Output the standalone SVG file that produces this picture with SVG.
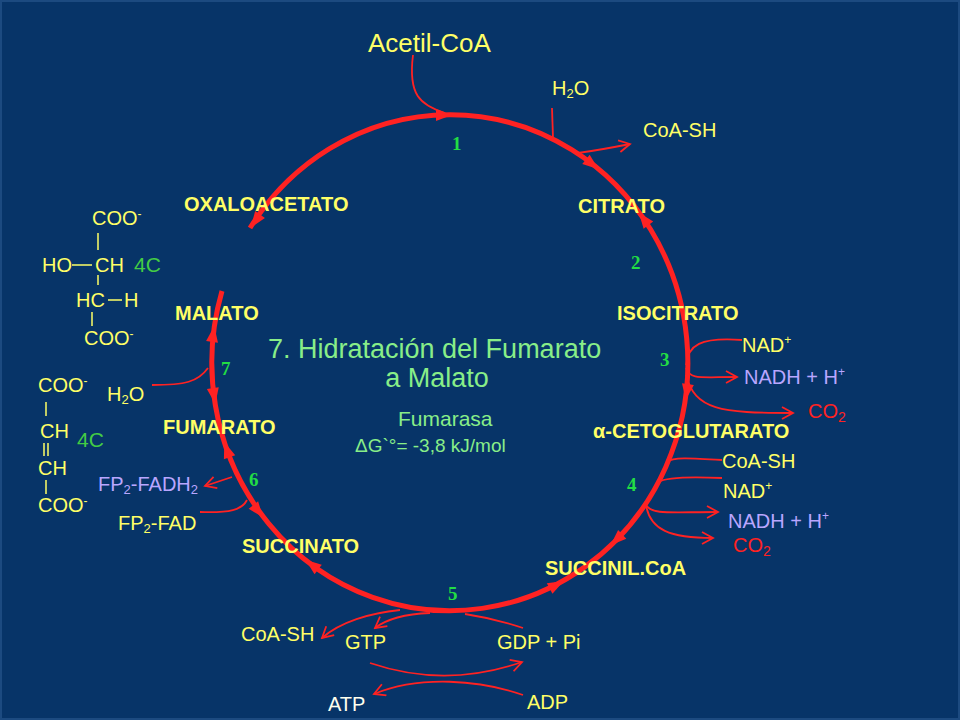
<svg xmlns="http://www.w3.org/2000/svg" width="960" height="720" viewBox="0 0 960 720">
<defs>
<style>
text{font-family:"Liberation Sans",Arial,sans-serif;fill:#ffff66;font-size:20px}
.b{font-weight:bold;font-size:20px}
.n{font-family:"Liberation Serif",serif;font-weight:bold;fill:#22dd44;font-size:19px}
.g{fill:#44cc44}
.lg{fill:#88ee88}
.p{fill:#b9a6ff}
.r{fill:#ff2222}
.t{fill:none;stroke:#ff2222;stroke-width:1.8}
.v{stroke:#ffff66;stroke-width:1.5}
</style>
<marker id="oa" markerWidth="14" markerHeight="14" refX="12" refY="7" orient="auto" markerUnits="userSpaceOnUse"><path d="M1,1 L12,7 L1,13" fill="none" stroke="#ff2222" stroke-width="1.8"/></marker>
<polygon id="ah" points="2,0 -14,-6 -14,6" fill="#ff2222"/>
</defs>
<rect width="960" height="720" fill="#073468"/>
<rect x="1" y="1" width="958" height="718" fill="none" stroke="#1c4a80" stroke-width="2"/>
<g id="connectors">
<path d="M250,228 A238,248 0 1 1 222,291" fill="none" stroke="#ff2222" stroke-width="5"/>
<use href="#ah" transform="translate(450,115) rotate(0)"/>
<use href="#ah" transform="translate(597,168) rotate(38)"/>
<use href="#ah" transform="translate(640,214) rotate(-127)"/>
<use href="#ah" transform="translate(686,398) rotate(98)"/>
<use href="#ah" transform="translate(612,544) rotate(137)"/>
<use href="#ah" transform="translate(562,582) rotate(-28)"/>
<use href="#ah" transform="translate(307,561) rotate(217)"/>
<use href="#ah" transform="translate(262,516) rotate(52)"/>
<use href="#ah" transform="translate(225,444) rotate(251)"/>
<use href="#ah" transform="translate(215,402) rotate(81)"/>
<use href="#ah" transform="translate(214,328) rotate(278)"/>
<use href="#ah" transform="translate(252,226) rotate(125)"/>
<path class="t" d="M413,55 C408,95 420,105 445,113"/>
<path class="t" d="M552,108 L553,138"/>
<path class="t" d="M578,153 Q600,150 630,144" marker-end="url(#oa)"/>
<path class="t" d="M742,340 C700,337 688,345 686,365"/>
<path class="t" d="M686,368 C690,380 700,377 737,377" marker-end="url(#oa)"/>
<path class="t" d="M686,375 C695,410 720,413 793,413" marker-end="url(#oa)"/>
<path class="t" d="M722,460 C690,458 672,457 667,462"/>
<path class="t" d="M722,478 C680,476 665,478 658,482"/>
<path class="t" d="M646,505 C652,515 670,512 718,512" marker-end="url(#oa)"/>
<path class="t" d="M646,505 C650,530 670,538 713,538" marker-end="url(#oa)"/>
<path class="t" d="M400,610 C370,613 340,622 322,638" marker-end="url(#oa)"/>
<path class="t" d="M430,613 C405,614 388,618 375,628" marker-end="url(#oa)"/>
<path class="t" d="M523,628 C505,622 485,617 465,614"/>
<path class="t" d="M370,663 C420,680 470,680 522,662" marker-end="url(#oa)"/>
<path class="t" d="M523,695 C480,680 420,675 374,694" marker-end="url(#oa)"/>
<path class="t" d="M152,385 C185,385 198,382 208,368"/>
<path class="t" d="M232,477 L205,486" marker-end="url(#oa)"/>
<path class="t" d="M200,512 C230,513 242,510 247,500"/>
</g>
<g id="acetil"><text x="368" y="52" style="font-size:26px">Acetil-CoA</text></g>
<g id="h2o-top"><text x="552" y="95">H<tspan font-size="13" dy="3">2</tspan><tspan dy="-3">O</tspan></text></g>
<g id="coash1"><text x="643" y="137">CoA-SH</text></g>
<g id="n1"><text class="n" x="452" y="150">1</text></g>
<g id="citrato"><text class="b" x="578" y="213">CITRATO</text></g>
<g id="oxaloacetato"><text class="b" x="184" y="211">OXALOACETATO</text></g>
<g id="n2"><text class="n" x="631" y="269">2</text></g>
<g id="isocitrato"><text class="b" x="617" y="320">ISOCITRATO</text></g>
<g id="title"><text class="lg" x="268" y="358" style="font-size:27px">7. Hidratación del Fumarato</text><text class="lg" x="437" y="387" text-anchor="middle" style="font-size:27px">a Malato</text></g>
<g id="enzyme"><text class="lg" x="398" y="426" style="font-size:21px">Fumarasa</text><text class="lg" x="355" y="452" style="font-size:19px">ΔG`°= -3,8  kJ/mol</text></g>
<g id="step3"><text class="n" x="660" y="366">3</text>
<text x="742" y="352">NAD<tspan font-size="12" dy="-8">+</tspan></text>
<text class="p" x="744" y="384">NADH + H<tspan font-size="12" dy="-8">+</tspan></text>
<text class="r" x="808" y="418">CO<tspan font-size="14" dy="4">2</tspan></text></g>
<g id="cetoglutarato"><text class="b" x="593" y="438">α-CETOGLUTARATO</text></g>
<g id="step4"><text x="722" y="468">CoA-SH</text>
<text x="723" y="498">NAD<tspan font-size="12" dy="-8">+</tspan></text>
<text class="n" x="627" y="491">4</text>
<text class="p" x="728" y="528">NADH + H<tspan font-size="12" dy="-8">+</tspan></text>
<text class="r" x="733" y="552">CO<tspan font-size="14" dy="4">2</tspan></text></g>
<g id="succinilcoa"><text class="b" x="545" y="575">SUCCINIL.CoA</text></g>
<g id="n5"><text class="n" x="448" y="600">5</text></g>
<g id="succinato"><text class="b" x="242" y="553">SUCCINATO</text></g>
<g id="step5"><text x="241" y="641">CoA-SH</text><text x="345" y="649">GTP</text><text x="497" y="649">GDP + Pi</text>
<text x="328" y="711" style="fill:#ffffee">ATP</text><text x="527" y="709">ADP</text></g>
<g id="malato"><text class="b" x="175" y="320">MALATO</text></g>
<g id="n7"><text class="n" x="221" y="375">7</text></g>
<g id="fumarato"><text class="b" x="163" y="434">FUMARATO</text></g>
<g id="n6"><text class="n" x="249" y="486">6</text></g>
<g id="h2o-left"><text x="107" y="401">H<tspan font-size="13" dy="3">2</tspan><tspan dy="-3">O</tspan></text></g>
<g id="fad"><text class="p" x="98" y="491">FP<tspan font-size="13" dy="3">2</tspan><tspan dy="-3">-FADH</tspan><tspan font-size="13" dy="3">2</tspan></text>
<text x="118" y="530">FP<tspan font-size="13" dy="3">2</tspan><tspan dy="-3">-FAD</tspan></text></g>
<g id="malato-struct">
<text x="92" y="225">COO<tspan font-size="12" dy="-7">-</tspan></text>
<line class="v" x1="98" y1="233" x2="98" y2="250"/>
<text x="42" y="272">HO</text><line class="v" x1="72" y1="265" x2="92" y2="265"/><text x="95" y="272">CH</text>
<line class="v" x1="98" y1="275" x2="98" y2="285"/>
<text class="g" x="134" y="272" style="font-size:21px">4C</text>
<text x="76" y="307">HC</text><line class="v" x1="108" y1="300" x2="122" y2="300"/><text x="124" y="307">H</text>
<line class="v" x1="92" y1="312" x2="92" y2="326"/>
<text x="84" y="345">COO<tspan font-size="12" dy="-7">-</tspan></text>
</g>
<g id="fumarato-struct">
<text x="38" y="392">COO<tspan font-size="12" dy="-7">-</tspan></text>
<line class="v" x1="46" y1="402" x2="46" y2="416"/>
<text x="40" y="438">CH</text>
<line class="v" x1="44" y1="443" x2="44" y2="456"/><line class="v" x1="48" y1="443" x2="48" y2="456"/>
<text class="g" x="77" y="447" style="font-size:21px">4C</text>
<text x="38" y="475">CH</text>
<line class="v" x1="46" y1="480" x2="46" y2="494"/>
<text x="38" y="512">COO<tspan font-size="12" dy="-7">-</tspan></text>
</g>
</svg>
